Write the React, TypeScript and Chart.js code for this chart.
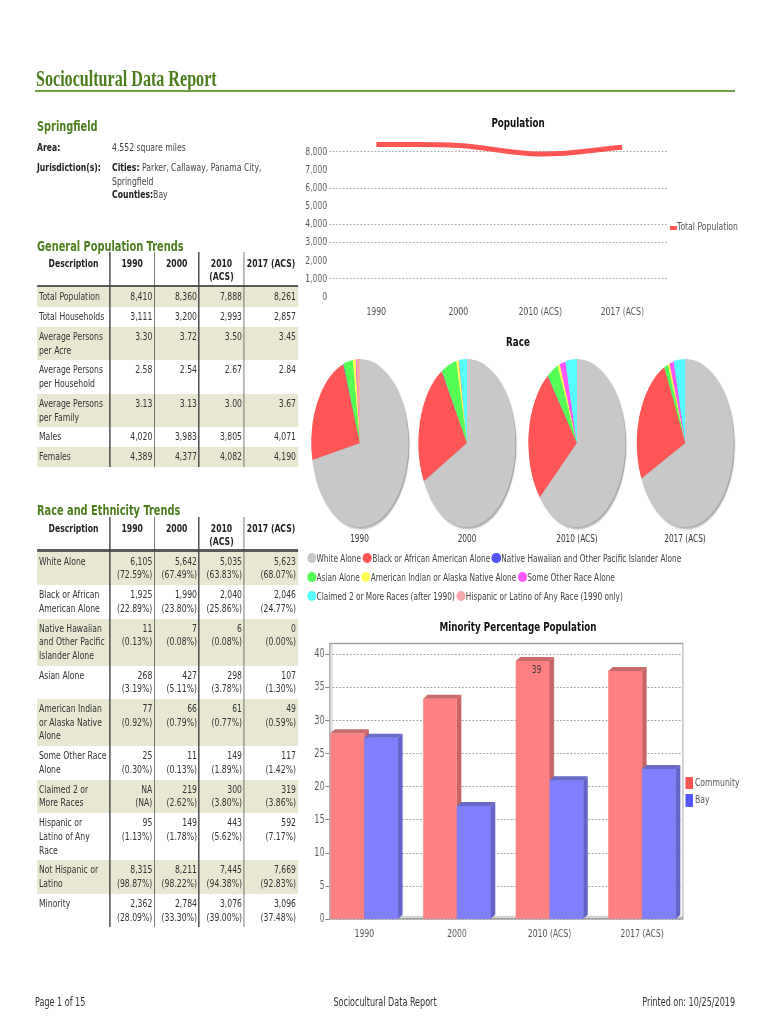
import React, { useEffect, useRef } from 'react';
import { Chart, registerables } from 'chart.js';
Chart.register(...registerables);

// ---------------- data ----------------
const years = ['1990', '2000', '2010 (ACS)', '2017 (ACS)'];
const yearHeaders = ['1990', '2000', '2010\n(ACS)', '2017 (ACS)'];

const totalPopulation = [8410, 8360, 7888, 8261];
const totalHouseholds = [3111, 3200, 2993, 2857];
const personsPerAcre = [3.3, 3.72, 3.5, 3.45];
const personsPerHousehold = [2.58, 2.54, 2.67, 2.84];
const personsPerFamily = [3.13, 3.13, 3.0, 3.67];
const males = [4020, 3983, 3805, 4071];
const females = [4389, 4377, 4082, 4190];

const white = [6105, 5642, 5035, 5623];
const whitePct = [72.59, 67.49, 63.83, 68.07];
const black = [1925, 1990, 2040, 2046];
const blackPct = [22.89, 23.8, 25.86, 24.77];
const nhpi = [11, 7, 6, 0];
const nhpiPct = [0.13, 0.08, 0.08, 0.0];
const asian = [268, 427, 298, 107];
const asianPct = [3.19, 5.11, 3.78, 1.3];
const aian = [77, 66, 61, 49];
const aianPct = [0.92, 0.79, 0.77, 0.59];
const otherRace = [25, 11, 149, 117];
const otherRacePct = [0.3, 0.13, 1.89, 1.42];
const twoPlus: (number | null)[] = [null, 219, 300, 319];
const twoPlusPct: (number | null)[] = [null, 2.62, 3.8, 3.86];
const hispanic = [95, 149, 443, 592];
const hispanicPct = [1.13, 1.78, 5.62, 7.17];
const notHispanic = [8315, 8211, 7445, 7669];
const notHispanicPct = [98.87, 98.22, 94.38, 92.83];
const minority = [2362, 2784, 3076, 3096];
const minorityPct = [28.09, 33.3, 39.0, 37.48];

const hispanicPie = [95, 0, 0, 0];
const bayMinorityPct = [27.4, 17.1, 21.0, 22.7];
const communityBarLabels = ['', '', '39', ''];

const raceLabels = [
  'White Alone',
  'Black or African American Alone',
  'Native Hawaiian and Other Pacific Islander Alone',
  'Asian Alone',
  'American Indian or Alaska Native Alone',
  'Some Other Race Alone',
  'Claimed 2 or More Races (after 1990)',
  'Hispanic or Latino of Any Race (1990 only)',
];
const raceColors = ['#c8c8c8', '#ff5555', '#5555ff', '#55ff55', '#ffff55', '#ff55ff', '#55ffff', '#f4aaaa'];

const popTicks = [0, 1000, 2000, 3000, 4000, 5000, 6000, 7000, 8000];
const popGridValues = [1000, 3000, 4000, 6000, 8000];
const barTicks = [0, 5, 10, 15, 20, 25, 30, 35, 40];

// ---------------- layout helpers ----------------
const K = 0.7; // horizontal compression of the printed page
const V = (x: number) => x / K;
const SANS = '"DejaVu Sans", Verdana, sans-serif';
const SERIF = '"Liberation Serif", "Times New Roman", serif';
const GREEN = '#4d7d1e';
const SHADE = '#e7e7d2';

const fmtInt = (v: number | null) => (v === null ? 'NA' : v.toLocaleString('en-US'));
const fmt2 = (v: number) => v.toFixed(2);
const fmtPct = (v: number | null) => (v === null ? '(NA)' : `(${v.toFixed(2)}%)`);

type Row = { label: string; cells: string[] };

const genRows: Row[] = [
  { label: 'Total Population', cells: totalPopulation.map(fmtInt) },
  { label: 'Total Households', cells: totalHouseholds.map(fmtInt) },
  { label: 'Average Persons\nper Acre', cells: personsPerAcre.map(fmt2) },
  { label: 'Average Persons\nper Household', cells: personsPerHousehold.map(fmt2) },
  { label: 'Average Persons\nper Family', cells: personsPerFamily.map(fmt2) },
  { label: 'Males', cells: males.map(fmtInt) },
  { label: 'Females', cells: females.map(fmtInt) },
];

const raceTableLabels = [
  'White Alone',
  'Black or African\nAmerican Alone',
  'Native Hawaiian\nand Other Pacific\nIslander Alone',
  'Asian Alone',
  'American Indian\nor Alaska Native\nAlone',
  'Some Other Race\nAlone',
  'Claimed 2 or\nMore Races',
  'Hispanic or\nLatino of Any\nRace',
  'Not Hispanic or\nLatino',
  'Minority',
];
const raceCounts: (number | null)[][] = [white, black, nhpi, asian, aian, otherRace, twoPlus, hispanic, notHispanic, minority];
const racePcts: (number | null)[][] = [whitePct, blackPct, nhpiPct, asianPct, aianPct, otherRacePct, twoPlusPct, hispanicPct, notHispanicPct, minorityPct];
const raceRows: Row[] = raceTableLabels.map((label, r) => ({
  label,
  cells: years.map((_, i) => `${fmtInt(raceCounts[r][i])}\n${fmtPct(racePcts[r][i])}`),
}));

const pieData = years.map((_, i) => [
  white[i], black[i], nhpi[i], asian[i], aian[i], otherRace[i], twoPlus[i] ?? 0, hispanicPie[i],
]);

// ---------------- components ----------------
type TxtProps = {
  x: number; base: number; size?: number; bold?: boolean; color?: string;
  align?: 'left' | 'center' | 'right'; family?: string; asc?: number; children: React.ReactNode;
};
function Txt({ x, base, size = 11, bold = false, color = '#333', align = 'left', family = SANS, asc = 0.846, children }: TxtProps) {
  const style: React.CSSProperties = {
    position: 'absolute', top: base - asc * size, fontSize: size, lineHeight: `${size}px`,
    fontWeight: bold ? 'bold' : 'normal', color, fontFamily: family, whiteSpace: 'pre',
  };
  if (align === 'center') { style.left = V(x) - 500; style.width = 1000; style.textAlign = 'center'; }
  else if (align === 'right') { style.left = V(x) - 1000; style.width = 1000; style.textAlign = 'right'; }
  else style.left = V(x);
  return <div style={style}>{children}</div>;
}

const colEdges = [37, 110, 154.3, 199, 244, 298];
const LINE = 13.6, PAD_T = 3.2, PAD_B = 3.1;
const cellFont: React.CSSProperties = {
  position: 'absolute', fontSize: 11, lineHeight: `${LINE}px`, fontFamily: SANS, color: '#333', whiteSpace: 'pre',
};

function DataTable({ top, rows }: { top: number; rows: Row[] }) {
  let y = top + 35;
  const rowEls = rows.map((r, i) => {
    const lines = Math.max(r.label.split('\n').length, ...r.cells.map((c) => c.split('\n').length));
    const h = PAD_T + PAD_B + LINE * lines;
    const el = (
      <div key={i} style={{ position: 'absolute', left: V(colEdges[0]), top: y, width: V(colEdges[5] - colEdges[0]), height: h, background: i % 2 === 0 ? SHADE : 'transparent' }}>
        <div style={{ ...cellFont, left: V(2), top: PAD_T }}>{r.label}</div>
        {r.cells.map((c, j) => (
          <div key={j} style={{ ...cellFont, left: 0, width: V(colEdges[j + 2] - colEdges[0] - 2), top: PAD_T, textAlign: 'right' }}>{c}</div>
        ))}
      </div>
    );
    y += h;
    return el;
  });
  const bottom = y;
  const headBase = top + 15.5;
  return (
    <>
      {rowEls}
      <div style={{ position: 'absolute', left: V(colEdges[0]), top: top + 32.5, width: V(colEdges[5] - colEdges[0]), height: 2.5, background: '#5a5a5a' }} />
      {colEdges.slice(1, 5).map((x, i) => (
        <div key={'v' + i} style={{ position: 'absolute', left: V(x - 0.65), width: V(1.3), top, height: bottom - top, background: '#444' }} />
      ))}
      <Txt x={(colEdges[0] + colEdges[1]) / 2} base={headBase} bold align="center" color="#222">Description</Txt>
      {yearHeaders.map((h, i) => (
        <div key={'h' + i} style={{
          position: 'absolute', left: V((colEdges[i + 1] + colEdges[i + 2]) / 2) - 100, width: 200, textAlign: 'center',
          top: headBase - 10.3, fontSize: 11, lineHeight: '13px', fontWeight: 'bold', fontFamily: SANS, color: '#222', whiteSpace: 'pre',
        }}>{h}</div>
      ))}
    </>
  );
}

const pieCentersX = [359.5, 467, 577, 685];
const legendRows = [[0, 1, 2], [3, 4, 5], [6, 7]];
const legendTops = [552.1, 570.8, 589.8];

export default function App() {
  const popRef = useRef<HTMLCanvasElement>(null);
  const barRef = useRef<HTMLCanvasElement>(null);
  const pieRefs = useRef<(HTMLCanvasElement | null)[]>([]);

  useEffect(() => {
    Chart.defaults.font.family = '"DejaVu Sans", sans-serif';
    const charts: Chart[] = [];

    // Population line chart
    if (popRef.current) {
      charts.push(new Chart(popRef.current, {
        type: 'line',
        data: {
          datasets: [{
            label: 'Total Population',
            data: totalPopulation.map((v, i) => ({ x: i, y: v })),
            borderColor: '#ff5555', backgroundColor: '#ff5555', borderWidth: 5, pointRadius: 0,
            tension: 0.4, fill: false, clip: false as any, borderCapStyle: 'butt',
          }],
        },
        options: {
          animation: false, responsive: true, maintainAspectRatio: false,
          layout: { padding: { top: 10.9, right: V(5), left: 0, bottom: 0 } },
          plugins: { legend: { display: false }, tooltip: { enabled: false } },
          scales: {
            x: {
              type: 'linear', min: -0.573, max: 3.549, offset: false,
              afterBuildTicks: (s: any) => { s.ticks = years.map((_, i) => ({ value: i })); },
              ticks: { callback: (v: any) => years[v as number] ?? '', font: { size: 11 }, color: '#555', padding: 1, autoSkip: false, maxRotation: 0 },
              grid: { display: false }, border: { display: false },
              afterFit: (s: any) => { s.height = 25; },
            },
            y: {
              min: 0, max: 8500,
              afterBuildTicks: (s: any) => { s.ticks = popTicks.map((v) => ({ value: v })); },
              ticks: { callback: (v: any) => Number(v).toLocaleString('en-US'), font: { size: 11 }, color: '#555', padding: 3 },
              grid: { drawTicks: false, lineWidth: 1, color: (c: any) => (popGridValues.includes(c.tick?.value) ? '#a8a8a8' : 'rgba(0,0,0,0)') },
              border: { display: false, dash: [2.5, 2.5] },
              afterFit: (s: any) => { s.width = V(29); },
            },
          },
        },
      }));
    }

    // Race pies
    pieRefs.current.forEach((cv, i) => {
      if (!cv) return;
      charts.push(new Chart(cv, {
        type: 'pie',
        data: { labels: raceLabels, datasets: [{ data: pieData[i], backgroundColor: raceColors, borderWidth: 0 }] },
        options: {
          animation: false, responsive: true, maintainAspectRatio: false,
          layout: { padding: 0 },
          plugins: { legend: { display: false }, tooltip: { enabled: false } },
        },
      }));
    });

    // Minority bar chart with 3D look
    const bar3d = {
      id: 'bar3d',
      beforeDatasetsDraw(chart: any) {
        const { ctx, chartArea: a } = chart;
        ctx.save();
        ctx.fillStyle = '#d2d2d2';
        ctx.fillRect(a.left, a.bottom - 3.5, a.right - a.left, 3.5);
        ctx.fillStyle = '#dedede';
        ctx.fillRect(a.left, a.top, V(3.5), a.bottom - a.top);
        ctx.strokeStyle = '#9a9a9a';
        ctx.lineWidth = 1.3;
        ctx.strokeRect(a.left + 0.5, a.top + 0.5, a.right - a.left - 1, a.bottom - a.top - 1);
        ctx.restore();
      },
      afterDatasetsDraw(chart: any) {
        const { ctx } = chart;
        const dx = V(4.5), dy = 4;
        const faces = (el: any, topC: string, sideC: string, front?: string) => {
          const p = el.getProps(['x', 'y', 'base', 'width'], true);
          const l = p.x - p.width / 2, r = p.x + p.width / 2;
          if (front) { ctx.fillStyle = front; ctx.fillRect(l, p.y, p.width, p.base - p.y); }
          ctx.fillStyle = topC;
          ctx.beginPath(); ctx.moveTo(l, p.y); ctx.lineTo(l + dx, p.y - dy); ctx.lineTo(r + dx, p.y - dy); ctx.lineTo(r, p.y); ctx.closePath(); ctx.fill();
          ctx.fillStyle = sideC;
          ctx.beginPath(); ctx.moveTo(r, p.y); ctx.lineTo(r + dx, p.y - dy); ctx.lineTo(r + dx, p.base - dy); ctx.lineTo(r, p.base); ctx.closePath(); ctx.fill();
        };
        ctx.save();
        chart.getDatasetMeta(0).data.forEach((el: any) => faces(el, '#c86a6a', '#c86464'));
        chart.getDatasetMeta(1).data.forEach((el: any) => faces(el, '#6a6ac8', '#6464c8', '#8080ff'));
        ctx.fillStyle = '#333';
        ctx.font = '11px "DejaVu Sans", sans-serif';
        ctx.textAlign = 'center';
        ctx.textBaseline = 'middle';
        chart.getDatasetMeta(0).data.forEach((el: any, i: number) => {
          if (!communityBarLabels[i]) return;
          const p = el.getProps(['x', 'y'], true);
          ctx.fillText(communityBarLabels[i], p.x + V(4), p.y + 9);
        });
        ctx.restore();
      },
    };

    if (barRef.current) {
      charts.push(new Chart(barRef.current, {
        type: 'bar',
        data: {
          datasets: [
            { label: 'Community', data: minorityPct.map((v, i) => ({ x: i, y: v })), backgroundColor: '#ff8080', borderWidth: 0, categoryPercentage: 0.73, barPercentage: 1.0 },
            { label: 'Bay', data: bayMinorityPct.map((v, i) => ({ x: i, y: v })), backgroundColor: '#8080ff', borderWidth: 0, categoryPercentage: 0.73, barPercentage: 1.0 },
          ] as any,
        },
        options: {
          animation: false, responsive: true, maintainAspectRatio: false,
          layout: { padding: { top: 10, right: V(7), left: 0, bottom: 0 } },
          plugins: { legend: { display: false }, tooltip: { enabled: false } },
          scales: {
            x: {
              type: 'linear', min: -0.378, max: 3.445, offset: false,
              afterBuildTicks: (s: any) => { s.ticks = years.map((_, i) => ({ value: i })); },
              ticks: { callback: (v: any) => years[v as number] ?? '', font: { size: 11 }, color: '#555', padding: 0, autoSkip: false, maxRotation: 0 },
              grid: { display: false, offset: false }, border: { display: false },
              afterFit: (s: any) => { s.height = 948 - 919.3; },
            },
            y: {
              min: 0, max: 41.7,
              afterBuildTicks: (s: any) => { s.ticks = barTicks.map((v) => ({ value: v })); },
              ticks: { font: { size: 11.5 }, color: '#555', padding: 1 },
              grid: { color: '#a0a0a0', tickColor: '#888', tickLength: V(4), lineWidth: 1 },
              border: { display: false, dash: [2.5, 2.5] },
              afterFit: (s: any) => { s.width = V(29); },
            },
          },
        },
        plugins: [bar3d],
      }));
    }

    return () => charts.forEach((c) => c.destroy());
  }, []);

  return (
    <div style={{ position: 'absolute', left: 0, top: 0, width: 770, height: 1024, overflow: 'hidden', background: '#fff' }}>
      <div style={{ position: 'absolute', left: 0, top: 0, width: V(770), height: 1024, transform: `scaleX(${K})`, transformOrigin: '0 0' }}>
        {/* Title */}
        <Txt x={36} base={86} size={23} bold color={GREEN} family={SERIF} asc={0.8375}>Sociocultural Data Report</Txt>
        <div style={{ position: 'absolute', left: V(35), top: 89.5, width: V(735 - 35), height: 2.5, background: '#72a046' }} />

        {/* Location info */}
        <Txt x={37} base={130.5} size={14} bold color={GREEN}>Springfield</Txt>
        <Txt x={37} base={151.5} bold color="#222">Area:</Txt>
        <Txt x={112} base={151.5} color="#444">4.552 square miles</Txt>
        <Txt x={37} base={171.5} bold color="#222">Jurisdiction(s):</Txt>
        <Txt x={112} base={171.5} color="#444"><b style={{ color: '#222' }}>Cities:</b> Parker, Callaway, Panama City,</Txt>
        <Txt x={112} base={185} color="#444">Springfield</Txt>
        <Txt x={112} base={198.5} color="#444"><b style={{ color: '#222' }}>Counties:</b>Bay</Txt>

        {/* General population table */}
        <Txt x={37} base={250.5} size={14} bold color={GREEN}>General Population Trends</Txt>
        <DataTable top={252} rows={genRows} />

        {/* Race table */}
        <Txt x={37} base={515} size={14} bold color={GREEN}>Race and Ethnicity Trends</Txt>
        <DataTable top={516.5} rows={raceRows} />

        {/* Population chart */}
        <Txt x={518} base={127.5} size={12.5} bold align="center" color="#111">Population</Txt>
        <div style={{ position: 'absolute', left: V(300), top: 132, width: V(372), height: 190 }}>
          <canvas ref={popRef} />
        </div>
        <div style={{ position: 'absolute', left: V(670), top: 225.7, width: V(7), height: 4.5, background: '#ff5555' }} />
        <Txt x={677} base={230.5} color="#555">Total Population</Txt>

        {/* Race pies */}
        <Txt x={518} base={347} size={12.5} bold align="center" color="#111">Race</Txt>
        {pieCentersX.map((cx, i) => (
          <div key={'p' + i} style={{ position: 'absolute', left: V(cx) - 84, top: 359, width: 168, height: 168, transform: 'scaleX(0.825)', transformOrigin: '50% 50%', filter: 'drop-shadow(2px 2px 1px rgba(0,0,0,0.35))' }}>
            <canvas ref={(el) => { pieRefs.current[i] = el; }} />
          </div>
        ))}
        {pieCentersX.map((cx, i) => (
          <Txt key={'pl' + i} x={cx} base={542} size={10.5} align="center" color="#333">{years[i]}</Txt>
        ))}
        {legendRows.map((row, ri) => (
          <div key={'lr' + ri} style={{ position: 'absolute', left: V(307), top: legendTops[ri], height: 12, display: 'flex', alignItems: 'center', fontFamily: SANS, fontSize: 10.5, lineHeight: '12px', color: '#444', whiteSpace: 'pre' }}>
            {row.map((k) => (
              <React.Fragment key={k}>
                <span style={{ display: 'inline-block', width: V(9.3), height: 10.6, borderRadius: '50%', background: raceColors[k], marginRight: V(0.3) }} />
                <span style={{ marginRight: V(1.5) }}>{raceLabels[k]}</span>
              </React.Fragment>
            ))}
          </div>
        ))}

        {/* Minority bar chart */}
        <Txt x={518} base={632} size={12.5} bold align="center" color="#111">Minority Percentage Population</Txt>
        <div style={{ position: 'absolute', left: V(300), top: 633, width: V(390), height: 315 }}>
          <canvas ref={barRef} />
        </div>
        <div style={{ position: 'absolute', left: V(685), top: 776.7, width: V(7.7), height: 12.3, background: '#ff5555' }} />
        <Txt x={695} base={786.5} color="#555">Community</Txt>
        <div style={{ position: 'absolute', left: V(685), top: 794, width: V(7.7), height: 12.5, background: '#5555ff' }} />
        <Txt x={695} base={803.5} color="#555">Bay</Txt>

        {/* Footer */}
        <Txt x={35} base={1007} size={11.5} color="#333">Page 1 of 15</Txt>
        <Txt x={385} base={1007} size={11.5} align="center" color="#333">Sociocultural Data Report</Txt>
        <Txt x={735} base={1007} size={11.5} align="right" color="#333">Printed on: 10/25/2019</Txt>
      </div>
    </div>
  );
}
